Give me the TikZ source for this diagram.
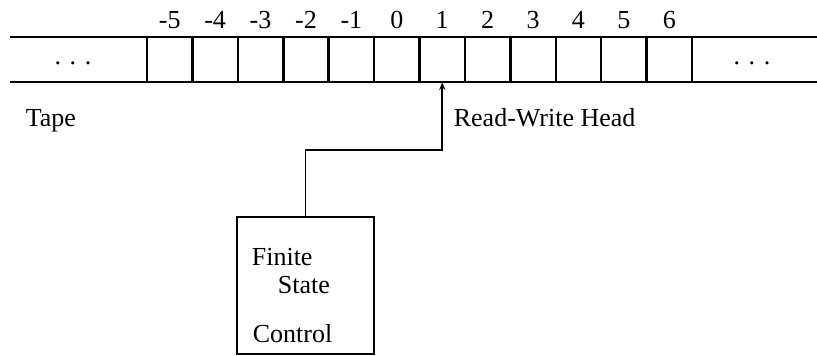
\documentclass[tikz,border=0pt]{standalone}
\usepackage{fontspec}
\setmainfont{Liberation Serif}
\usetikzlibrary{arrows.meta}

\begin{document}
\begin{tikzpicture}[x=1pt, y=-1pt, line width=1.7pt,
  cell/.style={draw, line width=2.5pt, minimum width=45.42pt, minimum height=45pt, inner sep=0pt, outer sep=0pt},
  lbl/.style={font=\fontsize{26}{30}\selectfont, inner sep=0pt}]

  \useasboundingbox (0, 0) rectangle (817, 356);

  % tape cells
  \foreach \i in {-5,...,6} {
    \pgfmathsetmacro{\cx}{147 + 45.42*(\i+5) + 22.71}
    \node[cell] (c\i) at (\cx, 59.5) {};
    \node[lbl] (n\i) at (\cx, 20) {\i};
  }

  \coordinate (tl) at (10, 37);
  \coordinate (bl) at (10, 82);
  \coordinate (tr) at (817, 37);
  \coordinate (br) at (817, 82);
  \draw (tl) -- (c-5.north west);
  \draw (bl) -- (c-5.south west);
  \draw (c6.north east) -- (tr);
  \draw (c6.south east) -- (br);

  \node[lbl, anchor=base] (ldots) at (73, 64) {. . .};
  \node[lbl, anchor=base] (rdots) at (752, 64) {. . .};

  \node[lbl, anchor=base west] (tape) at (25, 126) {Tape};
  \node[lbl, anchor=base west] (rwh) at (453, 126) {Read-Write Head};

  % finite state control
  \node[draw, line width=2.4pt, minimum width=137pt, minimum height=137pt, inner sep=0pt] (fsc) at (305.5, 285.5) {};
  \node[lbl, anchor=base west] (fin) at (251, 265) {Finite};
  \node[lbl, anchor=base west] (sta) at (277, 293) {State};
  \node[lbl, anchor=base west] (con) at (252, 342) {Control};

  \coordinate (bend) at (305.5, 150);
  \draw[-{Stealth[length=8pt, width=6pt]}] (fsc.north) -- (bend) -| (c1.south);

\end{tikzpicture}
\end{document}
